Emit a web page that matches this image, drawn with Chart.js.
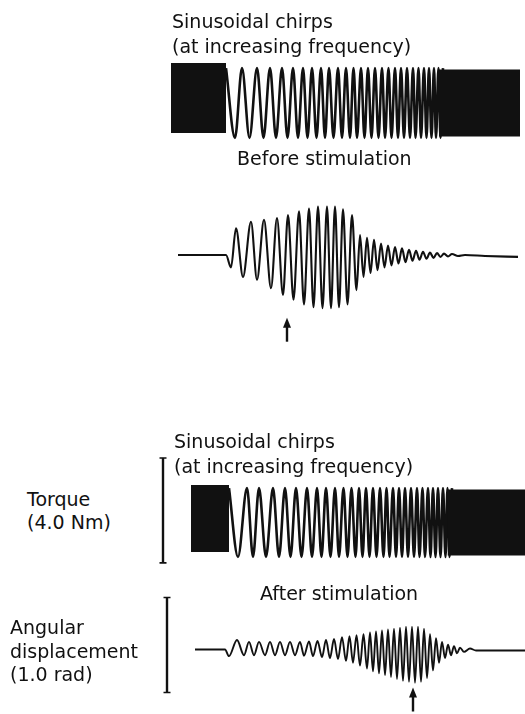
<!DOCTYPE html>
<html>
<head>
<meta charset="utf-8">
<script src="https://cdn.jsdelivr.net/npm/chart.js@4.4.1/dist/chart.umd.min.js"></script>
<style>
  body { margin: 0; background: #fff; width: 525px; height: 714px; overflow: hidden; position: relative;
         font-family: "DejaVu Sans", sans-serif; font-size: 19px; color: #111; }
  canvas { position: absolute; left: 150px; }
  .lbl { position: absolute; white-space: nowrap; line-height: 24px; }
</style>
</head>
<body>
<canvas id="torqueBefore" width="375" height="142" style="top:32px"></canvas>
<canvas id="angleBefore" width="375" height="190" style="top:160px"></canvas>
<canvas id="torqueAfter" width="375" height="141" style="top:452px"></canvas>
<canvas id="angleAfter" width="375" height="133" style="top:583px"></canvas>

<div class="lbl" style="left:172px;top:9px;line-height:25px">Sinusoidal chirps<br>(at increasing frequency)</div>
<div class="lbl" style="left:237px;top:146px">Before stimulation</div>
<div class="lbl" style="left:174px;top:429px;line-height:25px">Sinusoidal chirps<br>(at increasing frequency)</div>
<div class="lbl" style="left:27px;top:488px;line-height:23px">Torque<br>(4.0 Nm)</div>
<div class="lbl" style="left:260px;top:581px">After stimulation</div>
<div class="lbl" style="left:10px;top:616px;line-height:23.5px">Angular<br>displacement<br>(1.0 rad)</div>

<script>
// time in s, torque in Nm, angle in rad

// --- before stimulation: torque chirp ---
const chirpAmpBefore = 1.33;
const blockBefore = { from: 0.02, to: 1.12, top: 1.52, bottom: -1.14 };   // dense end of previous chirp
const peaksBefore = [1.12, 1.44, 1.74, 2.00, 2.24, 2.46, 2.66, 2.84, 3.02, 3.18, 3.36, 3.52, 3.67, 3.82,
  3.96, 4.10, 4.24, 4.37, 4.50, 4.62, 4.74, 4.86, 4.97, 5.08, 5.18, 5.28, 5.37, 5.46];
const troughsBefore = [1.30, 1.59, 1.87, 2.12, 2.35, 2.56, 2.75, 2.93, 3.10, 3.27, 3.44, 3.60, 3.74, 3.89,
  4.03, 4.17, 4.30, 4.43, 4.56, 4.68, 4.80, 4.91, 5.02, 5.13, 5.23, 5.32, 5.41];
const denseBefore = { from: 5.38, to: 7.0, top: 1.28, bottom: -1.28 };

// --- before stimulation: angular displacement ---
const angleTimesBefore = [0.16, 1.12, 1.22, 1.32, 1.46, 1.62, 1.74, 1.88, 2.02, 2.14, 2.26, 2.36, 2.47, 2.58,
  2.68, 2.78, 2.87, 2.96, 3.05, 3.14, 3.22, 3.30, 3.38, 3.46, 3.55, 3.64, 3.73, 3.80, 3.87, 3.94, 4.01, 4.08,
  4.15, 4.22, 4.29, 4.36, 4.43, 4.50, 4.57, 4.64, 4.71, 4.78, 4.85, 4.92, 4.99, 5.06, 5.13, 5.20, 5.27, 5.34,
  5.41, 5.48, 5.56, 5.64, 5.76, 5.90, 6.30, 6.96];
const angleBefore = [0, 0, -0.13, 0.28, -0.23, 0.35, -0.26, 0.37, -0.35, 0.39, -0.42, 0.42, -0.47, 0.46,
  -0.52, 0.49, -0.55, 0.51, -0.56, 0.51, -0.56, 0.51, -0.55, 0.48, -0.52, 0.42, -0.37, 0.21, -0.23, 0.18, -0.19, 0.16,
  -0.16, 0.12, -0.13, 0.10, -0.11, 0.085, -0.09, 0.07, -0.075, 0.055, -0.06, 0.045, -0.05, 0.035, -0.04, 0.025, -0.03, 0.02,
  -0.02, 0.015, -0.015, 0.01, -0.01, 0, -0.01, -0.02];
const arrowBefore = { t: 2.34, tip: -0.66 };

// --- after stimulation: torque chirp ---
const chirpAmpAfter = 1.31;
const blockAfter = { from: 0.42, to: 1.18, top: 1.43, bottom: -1.12 };
const peaksAfter = [1.18, 1.54, 1.78, 2.06, 2.30, 2.52, 2.74, 2.94, 3.12, 3.30, 3.47, 3.63, 3.78, 3.92,
  4.06, 4.20, 4.33, 4.46, 4.58, 4.70, 4.82, 4.94, 5.05, 5.16, 5.26, 5.36, 5.46, 5.55, 5.64];
const troughsAfter = [1.36, 1.66, 1.92, 2.18, 2.41, 2.63, 2.84, 3.03, 3.21, 3.38, 3.55, 3.71, 3.85, 3.99,
  4.13, 4.27, 4.39, 4.52, 4.64, 4.76, 4.88, 4.99, 5.10, 5.21, 5.31, 5.41, 5.51, 5.59];
const denseAfter = { from: 5.55, to: 7.1, top: 1.26, bottom: -1.26 };

// --- after stimulation: angular displacement ---
const angleTimesAfter = [0.50, 1.10, 1.18, 1.34, 1.48, 1.58, 1.68, 1.78, 1.90, 2.00, 2.10, 2.20, 2.30, 2.40, 2.50,
  2.60, 2.68, 2.78, 2.86, 2.95, 3.04, 3.12, 3.20, 3.28, 3.36, 3.44, 3.52, 3.59, 3.66, 3.73, 3.80, 3.87, 3.94,
  4.00, 4.06, 4.12, 4.18, 4.24, 4.30, 4.36, 4.42, 4.48, 4.54, 4.60, 4.66, 4.72, 4.78, 4.84, 4.90, 4.96, 5.02,
  5.08, 5.14, 5.20, 5.26, 5.32, 5.38, 5.44, 5.50, 5.56, 5.62, 5.68, 5.74, 5.80, 5.88, 6.00, 6.12, 7.10];
const angleAfter = [0, 0, -0.07, 0.10, -0.06, 0.08, -0.06, 0.08, -0.06, 0.08, -0.06, 0.08, -0.06, 0.08, -0.06,
  0.08, -0.065, 0.085, -0.07, 0.09, -0.08, 0.10, -0.09, 0.11, -0.10, 0.13, -0.12, 0.14, -0.14, 0.15, -0.17, 0.16, -0.20,
  0.18, -0.23, 0.19, -0.25, 0.20, -0.27, 0.21, -0.29, 0.22, -0.31, 0.23, -0.33, 0.24, -0.34, 0.24, -0.35, 0.24, -0.34,
  0.22, -0.30, 0.16, -0.22, 0.12, -0.14, 0.08, -0.09, 0.05, -0.06, 0.035, -0.04, 0.02, -0.025, 0.01, -0.01, -0.01];
const arrowAfter = { t: 4.86, tip: -0.40 };

// calibration bars
const TORQUE_BAR_NM = 4.0;
const ANGLE_BAR_RAD = 1.0;

const INK = '#111';

function zigzag(peaks, troughs, amp) {
  const pts = peaks.map(t => ({ x: t, y: amp })).concat(troughs.map(t => ({ x: t, y: -amp })));
  return pts.sort((a, b) => a.x - b.x);
}
function pairs(ts, vs) { return ts.map((t, i) => ({ x: t, y: vs[i] })); }
function band(b) {
  return [
    { data: [{ x: b.from, y: b.top }, { x: b.to, y: b.top }], fill: '+1', backgroundColor: INK, borderWidth: 0 },
    { data: [{ x: b.from, y: b.bottom }, { x: b.to, y: b.bottom }], fill: false, borderWidth: 0 }
  ];
}

const marksPlugin = {
  id: 'marks',
  afterDatasetsDraw(chart, args, opts) {
    const { ctx } = chart;
    const xs = chart.scales.x, ys = chart.scales.y;
    ctx.save();
    ctx.strokeStyle = INK; ctx.fillStyle = INK;
    if (opts.bar) {
      const bx = xs.getPixelForValue(opts.bar.t);
      const y1 = ys.getPixelForValue(opts.bar.bottom + opts.bar.size);
      const y2 = ys.getPixelForValue(opts.bar.bottom);
      ctx.lineWidth = 2.4;
      ctx.beginPath();
      ctx.moveTo(bx, y1); ctx.lineTo(bx, y2);
      ctx.stroke();
      ctx.lineWidth = 1.6;
      ctx.beginPath();
      ctx.moveTo(bx - 3.5, y1); ctx.lineTo(bx + 3.5, y1);
      ctx.moveTo(bx - 3.5, y2); ctx.lineTo(bx + 3.5, y2);
      ctx.stroke();
    }
    if (opts.arrow) {
      const ax = xs.getPixelForValue(opts.arrow.t);
      const ay = ys.getPixelForValue(opts.arrow.tip);
      ctx.beginPath();
      ctx.moveTo(ax, ay); ctx.lineTo(ax - 4, ay + 10); ctx.lineTo(ax + 4, ay + 10);
      ctx.closePath(); ctx.fill();
      ctx.fillRect(ax - 1.2, ay + 9, 2.4, 15);
    }
    ctx.restore();
  }
};

function makeChart(id, datasets, yRange, marks) {
  new Chart(document.getElementById(id), {
    type: 'line',
    data: { datasets },
    plugins: [marksPlugin],
    options: {
      responsive: false,
      animation: false,
      devicePixelRatio: 1,
      events: [],
      layout: { padding: 0 },
      elements: { point: { radius: 0 } },
      plugins: { legend: { display: false }, tooltip: { enabled: false }, marks: marks || {} },
      scales: {
        x: { type: 'linear', min: -0.4, max: 7.1, display: false },
        y: { type: 'linear', min: -yRange, max: yRange, display: false }
      }
    }
  });
}

const traceStyle = (w) => ({ borderColor: INK, borderWidth: w, fill: false, cubicInterpolationMode: 'monotone', clip: false });

makeChart('torqueBefore', [
  ...band(blockBefore), ...band(denseBefore),
  { data: zigzag(peaksBefore, troughsBefore, chirpAmpBefore), ...traceStyle(2.6) }
], 2.705);

makeChart('angleBefore', [
  { data: pairs(angleTimesBefore, angleBefore), ...traceStyle(2.1) }
], 1.0, { arrow: arrowBefore });

makeChart('torqueAfter', [
  ...band(blockAfter), ...band(denseAfter),
  { data: zigzag(peaksAfter, troughsAfter, chirpAmpAfter), ...traceStyle(2.6) }
], 2.686, { bar: { t: -0.14, bottom: -1.54, size: TORQUE_BAR_NM } });

makeChart('angleAfter', [
  { data: pairs(angleTimesAfter, angleAfter), ...traceStyle(1.9) }
], 0.7, { bar: { t: -0.06, bottom: -0.453, size: ANGLE_BAR_RAD }, arrow: arrowAfter });
</script>
</body>
</html>
